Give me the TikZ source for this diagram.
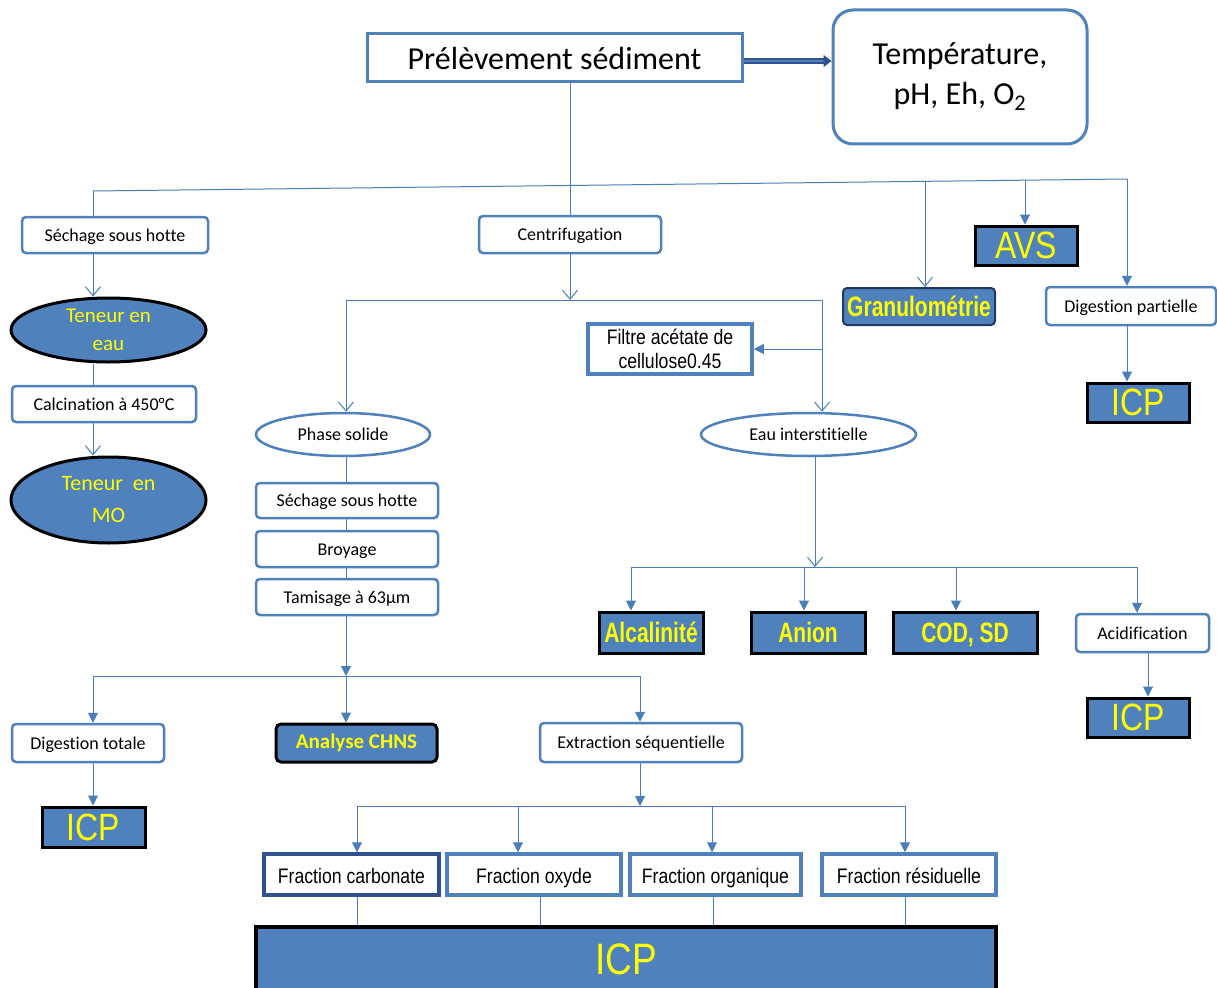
\documentclass[tikz,border=0pt]{standalone}
\usepackage{fontspec}
\setmainfont{Carlito}[Ligatures={NoCommon}]
\newfontfamily\arn[FakeStretch=0.84]{Liberation Sans}
\newfontfamily\arnb[FakeStretch=0.75]{Liberation Sans}
\usetikzlibrary{shapes.geometric,arrows.meta}
\definecolor{blu}{HTML}{4F81BD}
\definecolor{lnk}{HTML}{4A7EBB}
\definecolor{navy}{HTML}{2F528F}
\definecolor{yel}{HTML}{FFFF00}
\newcommand{\fs}[2]{\fontsize{#1}{#2}\selectfont}
\tikzset{
  every node/.style={inner sep=0pt, align=center},
  wbox/.style={draw=blu, line width=2.5pt, fill=white, rounded corners=4pt, font=\fs{18}{22}, text height=16.5pt, text depth=4pt},
  sqbox/.style={draw=blu, line width=3.5pt, fill=white, font=\arn\fs{21}{25}, text height=22pt, text depth=4.5pt},
  bbox/.style={draw=black, line width=3pt, fill=blu, text=yel},
  icpbox/.style={bbox, font=\arn\fs{38}{45}, text height=31pt, text depth=5pt},
  resbox/.style={bbox, font=\arnb\bfseries\fs{28}{32}, text height=24pt, text depth=5pt},
  oval/.style={ellipse, draw=blu, line width=2.5pt, fill=white, font=\fs{18}{22}, text height=16.5pt, text depth=4pt},
  boval/.style={ellipse, draw=black, line width=3pt, fill=blu, text=yel, font=\fs{21}{25}},
  conn/.style={draw=lnk, line width=1pt},
  opena/.style={conn, -{Straight Barb[length=9pt,width=15pt,line width=1pt]}},
  filla/.style={conn, -{Triangle[length=10pt,width=10pt]}},
}
\begin{document}
\begin{tikzpicture}[x=1pt,y=-1pt]
\useasboundingbox (0,0) rectangle (1217,987);
\fill[white] (0,0) rectangle (1217,987);

% sampling and field measurements
\node[draw=blu, line width=3pt, fill=white, minimum width=375pt, minimum height=48pt, font=\fs{32}{38}, text height=30pt, text depth=7pt] (top) at (554.5,58) {Prélèvement sédiment};
\node[draw=blu, line width=3pt, fill=white, rounded corners=20pt, minimum width=254pt, minimum height=134pt, font=\fs{32}{38}] (temp) at (960,77) {\raisebox{-4pt}{Température,}\\[6pt]pH, Eh, O\textsubscript{2}};
\draw[draw=navy, line width=1.5pt, double=blu, double distance=2.6pt, -{Triangle[length=8pt,width=12pt]}] ([yshift=-3pt]top.east) -- ([yshift=-3pt]top.east -| temp.west);

% first-level steps
\node[wbox, minimum width=186pt, minimum height=36pt] (sech1) at (115,235) {Séchage sous hotte};
\node[wbox, minimum width=182pt, minimum height=37pt] (centr) at (570,234.5) {Centrifugation};
\node[resbox, draw=navy!70!black, rounded corners=4pt, line width=2pt, minimum width=152pt, minimum height=37pt] (granu) at (919,306.5) {Granulométrie};
\node[icpbox, minimum width=102pt, minimum height=39pt] (avs) at (1026,245.5) {AVS};
\node[wbox, minimum width=170pt, minimum height=38pt] (digp) at (1131,306) {Digestion partielle};
\node[icpbox, minimum width=102pt, minimum height=39pt] (icp2) at (1138,402.5) {ICP};

% water and organic matter content
\node[boval, minimum width=195pt, minimum height=64pt] (ten1) at (108.5,330) {\raisebox{-2pt}{Teneur en}\\[5pt]eau};
\node[wbox, minimum width=184pt, minimum height=36pt] (calc) at (104,404) {Calcination à 450°C};
\node[boval, font=\fs{22}{26}, minimum width=195pt, minimum height=86pt] (ten2) at (108.5,500) {Teneur~~en\\[6pt]MO};

% centrifugation products
\node[draw=blu, line width=3.5pt, fill=white, font=\arn\fs{21}{24}, minimum width=164pt, minimum height=50pt] (filt) at (670,349) {Filtre acétate de\\cellulose0.45};
\node[oval, minimum width=174pt, minimum height=43pt] (phase) at (343,434.5) {Phase solide};
\node[oval, minimum width=215pt, minimum height=43pt] (eau) at (808.5,434.5) {Eau interstitielle};

% solid phase preparation
\node[wbox, minimum width=182pt, minimum height=35pt] (sech2) at (347,500.5) {Séchage sous hotte};
\node[wbox, minimum width=182pt, minimum height=36pt] (broy) at (347,549) {Broyage};
\node[wbox, minimum width=182pt, minimum height=36pt] (tamis) at (347,597) {Tamisage à 63µm};

% solid phase analyses
\node[wbox, minimum width=152pt, minimum height=38pt] (digt) at (88,743) {Digestion totale};
\node[icpbox, minimum width=103pt, minimum height=40pt] (icp1) at (93.5,827) {ICP};
\node[bbox, rounded corners=5pt, font=\bfseries\fs{21}{25}, text height=16pt, text depth=5pt, minimum width=161pt, minimum height=38pt] (chns) at (356.5,743) {Analyse CHNS};
\node[wbox, minimum width=202pt, minimum height=39pt] (extr) at (641,742.5) {Extraction séquentielle};

% sequential extraction fractions
\node[sqbox, draw=navy, minimum width=175pt, minimum height=41pt] (fc) at (351.5,874.5) {Fraction carbonate};
\node[sqbox, minimum width=174pt, minimum height=41pt] (fo) at (534,874.5) {Fraction oxyde};
\node[sqbox, minimum width=171pt, minimum height=41pt] (forg) at (715.5,874.5) {Fraction organique};
\node[sqbox, minimum width=174pt, minimum height=41pt] (fr) at (909,874.5) {Fraction résiduelle};
\node[bbox, line width=4pt, font=\arn\fs{44}{52}, minimum width=740pt, minimum height=70pt] (icpbig) at (626,962) {\raisebox{6pt}{ICP}};

% pore water analyses
\node[resbox, minimum width=104pt, minimum height=41pt] (alc) at (651,632.5) {Alcalinité};
\node[resbox, minimum width=114pt, minimum height=41pt] (anion) at (808,632.5) {Anion};
\node[resbox, minimum width=144pt, minimum height=41pt] (cod) at (965,632.5) {COD, SD};
\node[wbox, minimum width=133pt, minimum height=38pt] (acid) at (1142.5,633) {Acidification};
\node[icpbox, minimum width=102pt, minimum height=39pt] (icp3) at (1138,717.5) {ICP};

% ---- connectors ----
% main distribution line
\coordinate (busL) at (93,191);
\coordinate (busR) at (1127,179);
\coordinate (bGr) at (925,181.3);
\coordinate (bAv) at (1025,180.2);
\draw[conn] (busL) -- (busR);
\draw[conn] (top.south -| centr.north) -- (centr.north);
\draw[conn] (busL) -- (busL |- sech1.north);
\draw[opena] (bGr) -- (bGr |- granu.north);
\draw[filla] (bAv) -- (bAv |- avs.north);
\draw[filla] (busR) -- (busR |- digp.north);
\draw[filla] (digp.south -| busR) -- (busR |- icp2.north);

% left column
\draw[opena] (sech1.south -| busL) -- (busL |- ten1.north);
\draw[conn] (ten1.south -| busL) -- (busL |- calc.north);
\draw[opena] (calc.south -| busL) -- (busL |- ten2.north);

% centrifugation split
\coordinate (cS) at (346,300);
\coordinate (cE) at (822,300);
\coordinate (cF) at (822,349);
\draw[opena] (centr.south) -- (centr.south |- cS);
\draw[conn] (cS) -- (cE);
\draw[opena] (cS) -- (cS |- phase.north);
\draw[opena] (cE) -- (cE |- eau.north);
\draw[filla] (cF) -- (filt.east);

% solid phase chain
\draw[conn] (phase.south -| cS) -- (cS |- sech2.north);
\draw[conn] (sech2.south -| cS) -- (cS |- broy.north);
\draw[conn] (broy.south -| cS) -- (cS |- tamis.north);
\coordinate (sL) at (93,676);
\coordinate (sM) at (346,676);
\coordinate (sR) at (640,676);
\draw[filla] (tamis.south -| sM) -- (sM);
\draw[conn] (sL) -- (sR);
\draw[filla] (sL) -- (sL |- digt.north);
\draw[filla] (sM) -- (sM |- chns.north);
\draw[filla] (sR) -- (sR |- extr.north);
\draw[filla] (digt.south -| sL) -- (sL |- icp1.north);

% sequential extraction split
\coordinate (xM) at (640,806);
\coordinate (x1) at (357,806);
\coordinate (x2) at (518,806);
\coordinate (x3) at (712,806);
\coordinate (x4) at (905,806);
\draw[filla] (extr.south -| xM) -- (xM);
\draw[conn] (x1) -- (x4);
\draw[filla] (x1) -- (x1 |- fc.north);
\draw[filla] (x2) -- (x2 |- fo.north);
\draw[filla] (x3) -- (x3 |- forg.north);
\draw[filla] (x4) -- (x4 |- fr.north);
\coordinate (y1) at (357,0);
\coordinate (y2) at (540,0);
\coordinate (y3) at (713,0);
\coordinate (y4) at (905,0);
\draw[conn] (fc.south -| y1) -- (y1 |- icpbig.north);
\draw[conn] (fo.south -| y2) -- (y2 |- icpbig.north);
\draw[conn] (forg.south -| y3) -- (y3 |- icpbig.north);
\draw[conn] (fr.south -| y4) -- (y4 |- icpbig.north);

% pore water split
\coordinate (wM) at (815,567);
\coordinate (w1) at (631,567);
\coordinate (w2) at (804,567);
\coordinate (w3) at (956,567);
\coordinate (w4) at (1137,567);
\coordinate (wA) at (1148,0);
\draw[opena] (eau.south -| wM) -- (wM);
\draw[conn] (w1) -- (w4);
\draw[filla] (w1) -- (w1 |- alc.north);
\draw[filla] (w2) -- (w2 |- anion.north);
\draw[filla] (w3) -- (w3 |- cod.north);
\draw[filla] (w4) -- (w4 |- acid.north);
\draw[filla] (acid.south -| wA) -- (wA |- icp3.north);
\end{tikzpicture}
\end{document}
